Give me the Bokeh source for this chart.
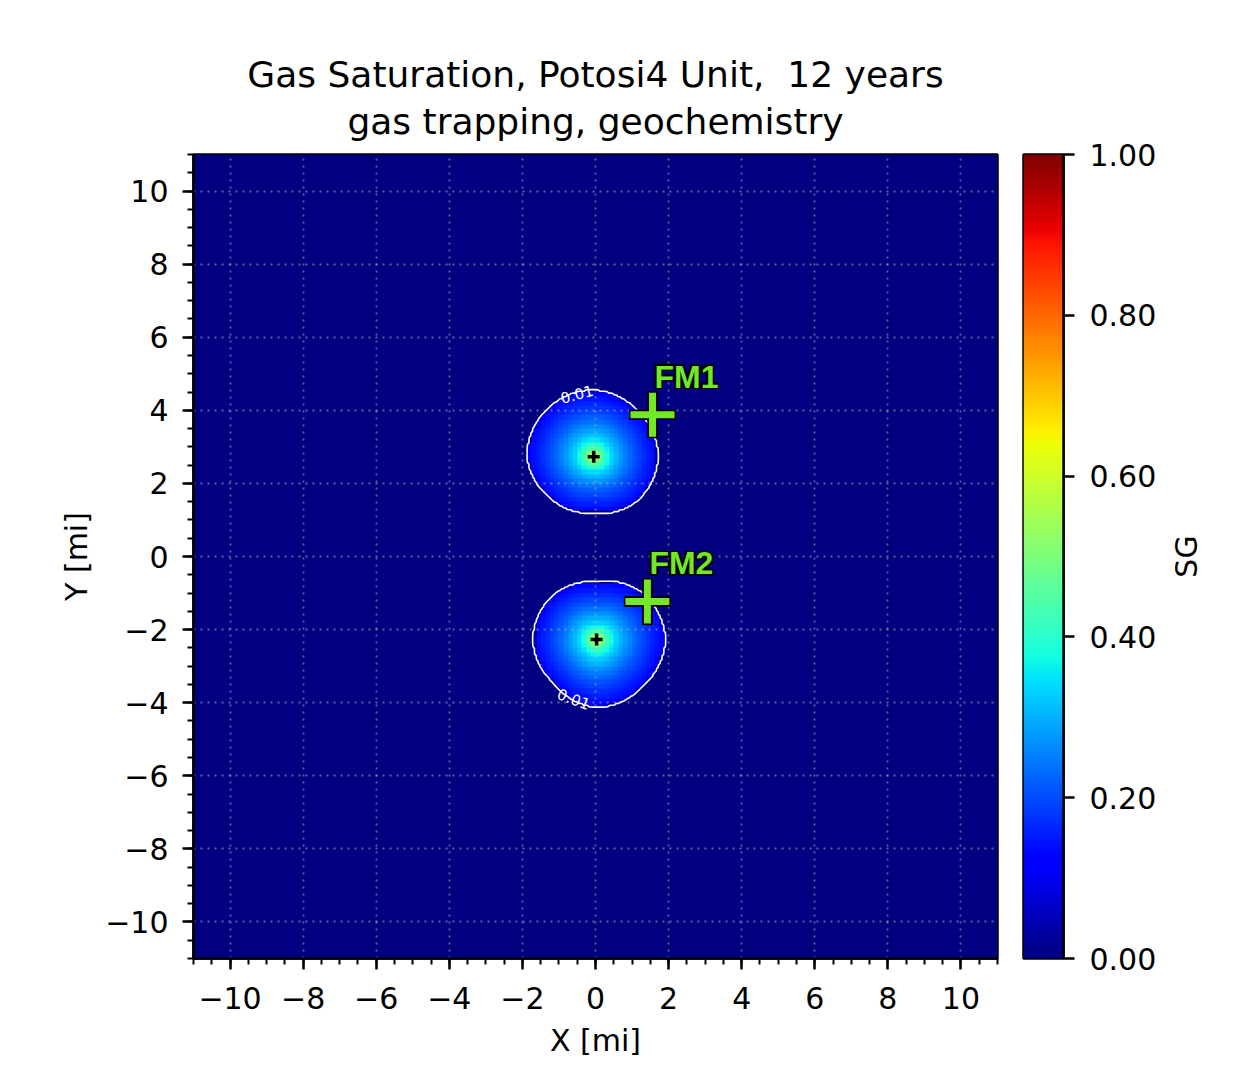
import numpy as np
from bokeh.plotting import figure
from bokeh.layouts import row
from bokeh.models import (LinearColorMapper, SingleIntervalTicker, FixedTicker,
                          CustomJSTickFormatter, NumeralTickFormatter, Title, Range1d)
from bokeh.core.properties import value
from bokeh.embed import file_html
from bokeh.resources import INLINE

# ---------------- data ----------------
TITLE_LINES = ["Gas Saturation, Potosi4 Unit,\u00a0 12 years", "gas trapping, geochemistry"]
X_LABEL = "X [mi]"
Y_LABEL = "Y [mi]"
CBAR_LABEL = "SG"
AXIS_MIN, AXIS_MAX = -11, 11
MAJOR_TICK_STEP = 2
CBAR_TICKS = [0.0, 0.2, 0.4, 0.6, 0.8, 1.0]
SG_LOW, SG_HIGH = 0.0, 1.0

# injection wells (plume centres)
WELL_X = [-0.05, 0.03]
WELL_Y = [2.73, -2.27]
# plume outer boundary radius (mi) at compass angles (deg, CCW from east)
BOUNDARY_ANGLE_DEG = [0, 45, 90, 135, 180, 225, 270, 315]
PLUME1_RADIUS_MI = [1.72, 1.70, 1.78, 1.78, 1.78, 1.60, 1.50, 1.66]
PLUME2_RADIUS_MI = [1.84, 1.75, 1.53, 1.66, 1.70, 1.64, 1.82, 1.76]
# radial saturation profile (normalised radius -> SG)
PROFILE_RN = [0.0, 0.06, 0.12, 0.20, 0.30, 0.45, 0.60, 0.75, 0.90, 1.00, 1.02]
PROFILE_SG = [0.62, 0.54, 0.46, 0.39, 0.33, 0.27, 0.22, 0.18, 0.145, 0.125, 0.0]

CONTOUR_LEVEL = 0.01
CONTOUR_LABEL = "0.01"
CONTOUR_LABEL_ANGLE_DEG = [105, 249]

MONITOR_NAMES = ["FM1", "FM2"]
MONITOR_X = [1.56, 1.42]
MONITOR_Y = [3.88, -1.23]

# ---------------- helpers ----------------
def jet(v):
    r = np.interp(v, [0, 0.35, 0.66, 0.89, 1.0], [0, 0, 1, 1, 0.5])
    g = np.interp(v, [0, 0.125, 0.375, 0.64, 0.91, 1.0], [0, 0, 1, 1, 0, 0])
    b = np.interp(v, [0, 0.11, 0.34, 0.65, 1.0], [0.5, 1, 1, 0, 0])
    return "#%02x%02x%02x" % (int(round(r * 255)), int(round(g * 255)), int(round(b * 255)))

JET = [jet(v) for v in np.linspace(0, 1, 256)]
mapper = LinearColorMapper(palette=JET, low=SG_LOW, high=SG_HIGH)

PLUME_RADII = [PLUME1_RADIUS_MI, PLUME2_RADIUS_MI]
ANG_CLOSED = np.array(BOUNDARY_ANGLE_DEG + [360])


def boundary_radius(i, theta_deg):
    rad = np.array(PLUME_RADII[i] + [PLUME_RADII[i][0]])
    return np.interp(np.asarray(theta_deg) % 360, ANG_CLOSED, rad)


def sg_field(xx, yy):
    z = np.zeros_like(xx)
    for i, (wx, wy) in enumerate(zip(WELL_X, WELL_Y)):
        dx = xx - wx
        dy = yy - wy
        d = np.hypot(dx, dy)
        th = np.degrees(np.arctan2(dy, dx))
        rn = d / boundary_radius(i, th)
        z = np.maximum(z, np.interp(rn, PROFILE_RN, PROFILE_SG, right=0.0))
    return z

# image grid
cell = 0.125
n = int(round((AXIS_MAX - AXIS_MIN) / cell))
c = AXIS_MIN + cell / 2 + cell * np.arange(n)
XX, YY = np.meshgrid(c, c)
Z_IMG = sg_field(XX, YY)

# finer grid for contour
cf = 0.05
nf = int(round((AXIS_MAX - AXIS_MIN) / cf))
cfine = AXIS_MIN + cf / 2 + cf * np.arange(nf)
XF, YF = np.meshgrid(cfine, cfine)
Z_FINE = sg_field(XF, YF)

FONT = "DejaVu Sans"
GREEN = "#72e826"

# ---------------- main figure ----------------
p = figure(frame_width=804, frame_height=804,
           x_range=Range1d(AXIS_MIN, AXIS_MAX), y_range=Range1d(AXIS_MIN, AXIS_MAX),
           toolbar_location=None, output_backend="svg",
           min_border_left=193, min_border_right=16, min_border_top=154, min_border_bottom=100)
p.background_fill_color = "#000080"
p.border_fill_color = "white"
p.outline_line_color = "black"
p.outline_line_width = 2.5

p.image(image=[Z_IMG], x=AXIS_MIN, y=AXIS_MIN, dw=AXIS_MAX - AXIS_MIN, dh=AXIS_MAX - AXIS_MIN,
        color_mapper=mapper, level="image")

p.contour(cfine, cfine, Z_FINE, levels=[CONTOUR_LEVEL], line_color="white", line_width=1.6)

# contour labels
lab_x, lab_y, lab_a = [], [], []
for i, a in enumerate(CONTOUR_LABEL_ANGLE_DEG):
    r = float(boundary_radius(i, a))
    lab_x.append(WELL_X[i] + r * np.cos(np.radians(a)))
    lab_y.append(WELL_Y[i] + r * np.sin(np.radians(a)))
    rot = a - 90
    if rot > 90:
        rot -= 180
    lab_a.append(np.radians(rot))
p.text(lab_x, lab_y, text=[CONTOUR_LABEL] * len(lab_x), angle=lab_a,
       text_color="white", text_font=value(FONT), text_font_size="15px",
       text_align="center", text_baseline="middle")

# wells
p.scatter(WELL_X, WELL_Y, marker="cross", size=12, line_color="black", line_width=3.5)

# monitoring points
p.scatter(MONITOR_X, MONITOR_Y, marker="cross", size=47, line_color="black", line_width=10.5)
p.scatter(MONITOR_X, MONITOR_Y, marker="cross", size=44, line_color=GREEN, line_width=7)
# black halo behind the labels
for ox in (-1.6, 0, 1.6):
    for oy in (-1.6, 0, 1.6):
        if ox == 0 and oy == 0:
            continue
        p.text(MONITOR_X, MONITOR_Y, text=MONITOR_NAMES, x_offset=2 + ox, y_offset=-38 + oy,
               text_font=value("Liberation Sans"), text_font_style="bold", text_font_size="32px",
               text_color="black", text_align="left", text_baseline="alphabetic")
p.text(MONITOR_X, MONITOR_Y, text=MONITOR_NAMES, x_offset=2, y_offset=-38,
       text_font=value("Liberation Sans"), text_font_style="bold", text_font_size="32px",
       text_color=GREEN, text_align="left", text_baseline="alphabetic")

# title (two lines)
p.add_layout(Title(text=TITLE_LINES[1], align="center", text_font=FONT, text_font_size="36px",
                   text_font_style="normal", text_color="black", standoff=26), "above")
p.add_layout(Title(text=TITLE_LINES[0], align="center", text_font=FONT, text_font_size="36px",
                   text_font_style="normal", text_color="black", standoff=-18), "above")

ticker = SingleIntervalTicker(interval=MAJOR_TICK_STEP, num_minor_ticks=4)
fmt = CustomJSTickFormatter(code="return tick < 0 ? '\u2212' + Math.abs(tick) : String(tick);")
p.xaxis.ticker = ticker
p.yaxis.ticker = ticker
p.xaxis.formatter = fmt
p.yaxis.formatter = fmt
p.xaxis.axis_label = X_LABEL
p.yaxis.axis_label = Y_LABEL

for g in (p.xgrid[0], p.ygrid[0]):
    g.ticker = ticker
    g.grid_line_color = "#b0b0b0"
    g.grid_line_alpha = 0.55
    g.grid_line_width = 1.8
    g.grid_line_dash = "2 5"


def style_axis(ax, standoff=14, label_standoff=10):
    ax.major_tick_out = 11
    ax.major_tick_in = 0
    ax.minor_tick_out = 6
    ax.minor_tick_in = 0
    ax.major_tick_line_width = 2.5
    ax.minor_tick_line_width = 2
    ax.axis_line_width = 2.5
    ax.major_label_standoff = standoff
    ax.major_label_text_font = FONT
    ax.major_label_text_font_size = "30px"
    ax.major_label_text_color = "black"
    ax.axis_label_text_font = FONT
    ax.axis_label_text_font_size = "30px"
    ax.axis_label_text_font_style = "normal"
    ax.axis_label_text_color = "black"
    ax.axis_label_standoff = label_standoff

style_axis(p.xaxis[0], standoff=17, label_standoff=11)
style_axis(p.yaxis[0], standoff=14, label_standoff=8)
p.yaxis.major_label_orientation = "horizontal"

# ---------------- colorbar figure ----------------
cb = figure(frame_width=40, frame_height=804, x_range=Range1d(0, 1), y_range=Range1d(SG_LOW, SG_HIGH),
            x_axis_location=None, y_axis_location="right",
            toolbar_location=None, output_backend="svg",
            min_border_left=10, min_border_right=90, min_border_top=154, min_border_bottom=100)
cb.image(image=[np.linspace(SG_LOW, SG_HIGH, 256).reshape(256, 1)], x=0, y=SG_LOW, dw=1,
         dh=SG_HIGH - SG_LOW, color_mapper=mapper, level="image")
cb.grid.visible = False
cb.outline_line_color = "black"
cb.outline_line_width = 2.5
cb.yaxis.ticker = FixedTicker(ticks=CBAR_TICKS)
cb.yaxis.formatter = NumeralTickFormatter(format="0.00")
style_axis(cb.yaxis[0], standoff=15)
cb.yaxis.minor_tick_line_color = None

# ---------------- colorbar label holder ----------------
lb = figure(frame_width=10, frame_height=804, x_range=Range1d(0, 1), y_range=Range1d(0, 1),
            x_axis_location=None, y_axis_location="left",
            toolbar_location=None, output_backend="svg",
            min_border_left=49, min_border_right=0, min_border_top=154, min_border_bottom=100)
lb.grid.visible = False
lb.outline_line_color = None
lb.yaxis.ticker = FixedTicker(ticks=[])
lb.yaxis.axis_label = CBAR_LABEL
lb.yaxis.axis_line_color = None
lb.yaxis.major_tick_line_color = None
lb.yaxis.minor_tick_line_color = None
lb.yaxis.major_label_standoff = 0
lb.yaxis.axis_label_standoff = 5
lb.yaxis.axis_label_text_font = FONT
lb.yaxis.axis_label_text_font_size = "30px"
lb.yaxis.axis_label_text_font_style = "normal"
lb.yaxis.axis_label_text_color = "black"

layout = row(p, cb, lb)
open("out.html", "w").write(file_html(layout, INLINE))
